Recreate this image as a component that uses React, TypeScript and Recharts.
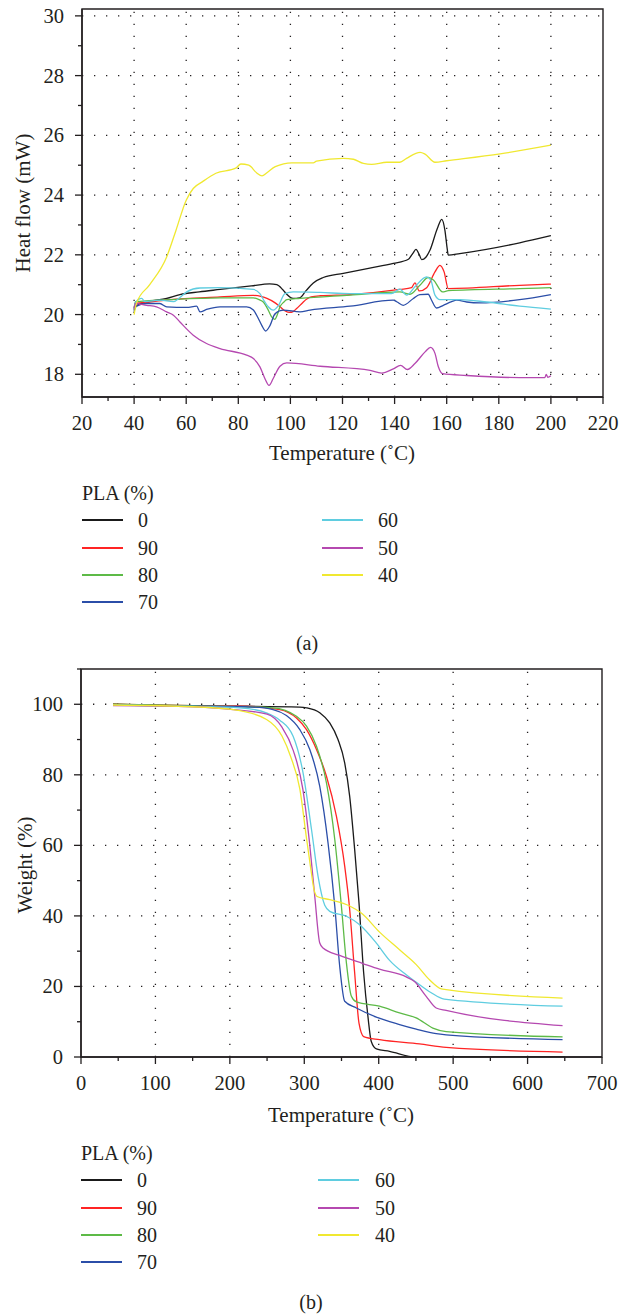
import React from "react";
import {
  LineChart,
  Line,
  XAxis,
  YAxis,
  ReferenceLine,
  ReferenceArea,
} from "recharts";

type Pt = [number, number];

// (a) DSC: heat flow (mW) against temperature (°C), one array per PLA content
const dsc0: Pt[] = [
  [40, 20.15], [41, 20.3], [45, 20.42], [52.5, 20.54], [57.6, 20.67], [65, 20.76],
  [73, 20.84], [85, 20.96], [92, 21.03], [94.8, 21.0], [97, 20.84], [98.6, 20.68],
  [101, 20.54], [103.5, 20.56], [106, 20.8], [108.8, 21.06], [112.6, 21.24],
  [120.3, 21.38], [130, 21.55], [139.5, 21.71], [145.3, 21.85], [147, 22.05],
  [148.2, 22.18], [149.5, 22.0], [150.4, 21.84], [152, 21.92], [153.6, 22.16],
  [156.4, 22.88], [158.1, 23.19], [159.3, 22.83], [160.2, 22.2], [160.6, 21.99],
  [165, 22.04], [188, 22.4], [200, 22.64],
];
const dsc90: Pt[] = [
  [40, 20.2], [40.5, 20.37], [46, 20.42], [53.8, 20.5], [73, 20.59], [85.8, 20.64],
  [89, 20.6], [91, 20.54], [94, 20.4], [96, 20.26], [98, 20.12], [99.8, 20.07],
  [101, 20.1], [102.4, 20.2], [104.5, 20.38], [106.3, 20.52], [108, 20.59],
  [111.4, 20.63], [122.9, 20.67], [142, 20.84], [146.5, 20.9], [147.8, 21.06],
  [149.5, 20.79], [152.3, 20.9], [155.5, 21.43], [157.4, 21.65], [159, 21.43],
  [160.6, 20.87], [188, 20.98], [200, 21.02],
];
const dsc80: Pt[] = [
  [40, 20.2], [40.5, 20.43], [53.8, 20.5], [73, 20.56], [85.8, 20.56], [88, 20.5],
  [89.6, 20.42], [91.5, 20.15], [92.8, 19.92], [94, 19.84], [95, 20.0], [96, 20.26],
  [97.5, 20.42], [98.6, 20.5], [103.7, 20.54], [122.9, 20.65], [142, 20.76],
  [145.9, 20.68], [149.7, 20.98], [152.9, 21.24], [154.9, 21.16], [158.4, 20.76],
  [160.6, 20.8], [188, 20.87], [200, 20.9],
];
const dsc70: Pt[] = [
  [40, 20.1], [40.5, 20.26], [44.8, 20.37], [49.9, 20.37], [52.5, 20.26], [60.2, 20.24],
  [64, 20.28], [65.3, 20.09], [67.8, 20.17], [73, 20.26], [83.2, 20.26], [85.8, 20.15],
  [87.5, 19.9], [89, 19.64], [90.5, 19.45], [92.2, 19.64], [94.1, 20.03], [97.3, 20.15],
  [103.7, 20.09], [107.5, 20.15], [122.9, 20.28], [139.5, 20.48], [140.8, 20.43],
  [143.3, 20.31], [147.2, 20.54], [149.7, 20.67], [152.9, 20.68], [154.2, 20.48],
  [156.1, 20.22], [158.7, 20.31], [161.9, 20.43], [163.8, 20.48], [167.7, 20.42],
  [172.8, 20.39], [188, 20.5], [200, 20.67],
];
const dsc60: Pt[] = [
  [40, 20.2], [40.5, 20.4], [42.9, 20.54], [44.2, 20.43], [49.9, 20.48], [55.1, 20.43],
  [57.6, 20.57], [60.2, 20.76], [65.3, 20.89], [73, 20.9], [85.8, 20.84], [88.3, 20.7],
  [90, 20.45], [91.5, 20.26], [93.4, 20.15], [95.4, 20.3], [97.9, 20.7], [101.1, 20.76],
  [111.4, 20.74], [122.9, 20.7], [138.8, 20.7], [142, 20.85], [144.6, 20.65],
  [147.8, 20.93], [152.3, 21.26], [153.9, 21.15], [155.5, 20.65], [157.4, 20.5],
  [165.1, 20.5], [175.4, 20.42], [188, 20.28], [200, 20.18],
];
const dsc50: Pt[] = [
  [40, 20.2], [40.5, 20.37], [44.8, 20.31], [48.6, 20.26], [52.5, 20.09], [55.1, 19.98],
  [57.6, 19.75], [62.7, 19.31], [67.8, 19.03], [73, 18.86], [83.2, 18.64], [85.8, 18.53],
  [88.3, 18.25], [90.2, 17.86], [91.8, 17.63], [93.4, 17.86], [96, 18.27], [98.6, 18.38],
  [111.4, 18.27], [130.6, 18.13], [135, 18.04], [139.5, 18.18], [142.3, 18.3],
  [144.9, 18.16], [147.8, 18.36], [151.7, 18.75], [153.8, 18.9], [155.5, 18.7],
  [156.8, 18.25], [158.4, 18.02], [167.7, 17.96], [188, 17.89], [197.7, 17.89],
  [198.2, 18.0], [198.8, 17.9], [200, 17.95],
];
const dsc40: Pt[] = [
  [40, 20.0], [41, 20.4], [46, 21.0], [52.5, 21.93], [56, 22.8], [60, 23.83],
  [62.7, 24.22], [66.3, 24.45], [71.4, 24.73], [79, 24.9], [81, 25.04], [84, 25.0],
  [87, 24.75], [89.1, 24.64], [91, 24.75], [94.2, 24.95], [100.6, 25.08], [108.8, 25.08],
  [110, 25.14], [120.3, 25.23], [124.2, 25.2], [128, 25.06], [131.2, 25.03], [137, 25.1],
  [142, 25.1], [144.6, 25.23], [149.8, 25.43], [151.7, 25.37], [155.5, 25.1],
  [160, 25.15], [180.5, 25.38], [200, 25.67],
];

// (b) TGA: weight (%) against temperature (°C)
const tga0: Pt[] = [
  [43, 100], [100, 99.7], [200, 99.5], [294, 99.2], [303, 99.0], [320.8, 97.6],
  [334.2, 94.7], [345.3, 90], [354.3, 83.4], [361, 73.9], [367.7, 58.8], [373.5, 43.7],
  [379.8, 23.8], [385.5, 11.5], [390, 4.4], [396.8, 2.3], [414.6, 1.6], [450, 0], [650, 0],
];
const tga90: Pt[] = [
  [43, 100], [150, 99.6], [213.5, 99.5], [267, 98.5], [289.5, 96.1], [303, 92.8],
  [316.4, 87.2], [329.8, 79.6], [343.2, 68.2], [354.3, 54.1], [361, 41.8], [367.7, 23.8],
  [373.5, 9.6], [379.8, 5.8], [401.2, 4.9], [454.8, 3.7], [490.6, 2.7], [647, 1.4],
];
const tga80: Pt[] = [
  [43, 100], [150, 99.6], [258, 99.0], [289.5, 96.6], [303, 93.8], [316.4, 88.1],
  [329.8, 77.7], [341, 61.6], [349.9, 42.7], [356.6, 26.7], [363.3, 17.2], [370, 15.6],
  [401, 14.4], [428, 12.5], [450.4, 11.1], [472.7, 8.2], [490.6, 7.2], [647, 5.7],
];
const tga70: Pt[] = [
  [43, 99.8], [150, 99.5], [230, 99.2], [258, 98.5], [276, 96.8], [294, 92.8],
  [307.4, 87.2], [320.8, 76.7], [331.9, 60.7], [341, 42.7], [347.6, 25.7], [354.3, 15.8],
  [370, 13.9], [396.8, 11.3], [428, 9.2], [450.4, 7.9], [477.2, 6.6], [490.6, 6.3], [647, 4.9],
];
const tga60: Pt[] = [
  [43, 99.8], [150, 99.4], [213, 99.0], [250, 97.5], [267, 95.5], [285, 90.9],
  [298.4, 80.5], [309.7, 64.5], [318.5, 51.2], [327.5, 43.0], [334.2, 41.3],
  [356.6, 39.9], [374.4, 37.5], [396.8, 32.3], [414.6, 27.4], [437, 23.3], [450.4, 21.2],
  [470, 18.3], [488, 16.4], [647, 14.4],
];
const tga50: Pt[] = [
  [43, 99.6], [150, 99.3], [204.6, 98.5], [250, 97.2], [270, 93.5], [285, 87],
  [298, 76], [307.4, 60], [314.1, 45.5], [320.8, 32.3], [325.2, 30.9], [347.6, 28.8],
  [378.8, 26.5], [401, 24.9], [437, 22.7], [448, 21.4], [463.8, 17.2], [477.2, 13.9],
  [490.6, 13.2], [647, 8.9],
];
const tga40: Pt[] = [
  [43, 99.8], [150, 99.3], [204.6, 98.5], [249.3, 95.7], [270, 91], [282, 85],
  [294, 76], [303, 62], [309, 53], [313, 47.5], [317.2, 45.5], [334.2, 44.6],
  [361, 42.8], [376.6, 40.8], [401.2, 35.4], [428, 30.4], [450.4, 26.2], [468.2, 21.9],
  [484, 19.3], [490.6, 19.1], [647, 16.7],
];

const plaLabels = ["0", "90", "80", "70", "60", "50", "40"];
const dscSeries = [dsc0, dsc90, dsc80, dsc70, dsc60, dsc50, dsc40];
const tgaSeries = [tga0, tga90, tga80, tga70, tga60, tga50, tga40];

const dscXTicks = [20, 30, 40, 50, 60, 70, 80, 90, 100, 110, 120, 130, 140, 150, 160, 170, 180, 190, 200, 210, 220];
const dscYTicks = [18, 19, 20, 21, 22, 23, 24, 25, 26, 27, 28, 29, 30];
const dscGridX = [40, 60, 80, 100, 120, 140, 160, 180, 200];
const dscGridY = [18, 20, 22, 24, 26, 28, 30];

const tgaXTicks = [0, 50, 100, 150, 200, 250, 300, 350, 400, 450, 500, 550, 600, 650, 700];
const tgaYTicks = [0, 10, 20, 30, 40, 50, 60, 70, 80, 90, 100, 110];
const tgaGridX = [100, 200, 300, 400, 500, 600];
const tgaGridY = [20, 40, 60, 80, 100];

const COLORS = ["#1a1a1a", "#ff2424", "#5dba47", "#2b4ea8", "#5fcde0", "#b548b0", "#f0e830"];
const FONT = '"Liberation Serif", "Times New Roman", "DejaVu Serif", serif';
const INK = "#231f20";

const isMajor = (v: number, step: number) => Math.abs(v / step - Math.round(v / step)) < 1e-6;

function XTick({ x, y, payload, major }: any) {
  const big = isMajor(payload.value, major);
  return (
    <g>
      <line x1={x} y1={y} x2={x} y2={y + (big ? 7 : 4)} stroke={INK} strokeWidth={1.3} />
      {big && (
        <text x={x} y={y + 33} textAnchor="middle" fontSize={20.5} fontFamily={FONT} fill={INK}>
          {payload.value}
        </text>
      )}
    </g>
  );
}

function YTick({ x, y, payload, major }: any) {
  const big = isMajor(payload.value, major);
  return (
    <g>
      <line x1={x} y1={y} x2={x - (big ? 7 : 4)} y2={y} stroke={INK} strokeWidth={1.3} />
      {big && (
        <text x={x - 18} y={y + 7} textAnchor="end" fontSize={20.5} fontFamily={FONT} fill={INK}>
          {payload.value}
        </text>
      )}
    </g>
  );
}

function Panel(props: any) {
  const { series, xDomain, yDomain, xTicks, yTicks, gridX, gridY, xMajor, yMajor, yWidth, right } = props;
  return (
    <LineChart width={633} height={440} margin={{ top: 9, right, bottom: 0, left: 0 }}>
      <XAxis
        type="number"
        dataKey="t"
        domain={xDomain}
        ticks={xTicks}
        interval={0}
        allowDataOverflow
        height={43}
        tickLine={false}
        tickSize={0}
        tickMargin={0}
        axisLine={{ stroke: INK, strokeWidth: 1.4 }}
        tick={(p: any) => <XTick {...p} major={xMajor} />}
      />
      <YAxis
        type="number"
        domain={yDomain}
        ticks={yTicks}
        interval={0}
        allowDataOverflow
        width={yWidth}
        tickLine={false}
        tickSize={0}
        tickMargin={0}
        axisLine={{ stroke: INK, strokeWidth: 1.4 }}
        tick={(p: any) => <YTick {...p} major={yMajor} />}
      />
      {gridX.map((v: number) => (
        <ReferenceLine key={`gx${v}`} x={v} stroke={INK} strokeWidth={1.3} strokeDasharray="1.3 10.7" />
      ))}
      {gridY.map((v: number) => (
        <ReferenceLine key={`gy${v}`} y={v} stroke={INK} strokeWidth={1.3} strokeDasharray="1.3 10.7" />
      ))}
      {series.map((pts: Pt[], i: number) => (
        <Line
          key={plaLabels[i]}
          data={pts.map(([t, v]) => ({ t, v }))}
          dataKey="v"
          type="monotone"
          stroke={COLORS[i]}
          strokeWidth={1.3}
          dot={false}
          isAnimationActive={false}
        />
      ))}
      <ReferenceArea
        x1={xDomain[0]}
        x2={xDomain[1]}
        y1={yDomain[0]}
        y2={yDomain[1]}
        fill="none"
        stroke={INK}
        strokeWidth={1.4}
      />
    </LineChart>
  );
}

function Txt({ x, y, children, left, rotate, size }: any) {
  return (
    <div
      style={{
        position: "absolute",
        left: x,
        top: y,
        transform: `translate(${left ? "0" : "-50%"}, -50%)${rotate ? " rotate(-90deg)" : ""}`,
        fontSize: size ?? 20,
        lineHeight: 1,
        whiteSpace: "nowrap",
      }}
    >
      {children}
    </div>
  );
}

function Legend({ top, lineX, textX, col2LineX, col2TextX }: any) {
  const rows = [27, 55, 82, 109];
  return (
    <>
      <Txt x={lineX} y={top} left>PLA (%)</Txt>
      {plaLabels.map((lab, i) => {
        const col2 = i >= 4;
        const y = top + rows[col2 ? i - 4 : i];
        const lx = col2 ? col2LineX : lineX;
        const tx = col2 ? col2TextX : textX;
        return (
          <React.Fragment key={lab}>
            <div style={{ position: "absolute", left: lx, top: y - 0.8, width: 41, height: 1.6, background: COLORS[i] }} />
            <Txt x={tx} y={y} left>{lab}</Txt>
          </React.Fragment>
        );
      })}
    </>
  );
}

export default function App() {
  return (
    <div
      style={{
        position: "absolute",
        left: 0,
        top: 0,
        width: 633,
        height: 1316,
        background: "#fff",
        fontFamily: FONT,
        color: INK,
        overflow: "hidden",
      }}
    >
      <div style={{ position: "absolute", left: 0, top: 0 }}>
        <Panel
          series={dscSeries}
          xDomain={[20, 220]}
          yDomain={[17.24, 30.23]}
          xTicks={dscXTicks}
          yTicks={dscYTicks}
          gridX={dscGridX}
          gridY={dscGridY}
          xMajor={20}
          yMajor={2}
          yWidth={82}
          right={30}
        />
      </div>
      <Txt x={23} y={203} rotate size={21}>Heat flow (mW)</Txt>
      <Txt x={342} y={453} size={21}>Temperature (˚C)</Txt>
      <Legend top={493} lineX={82} textX={138} col2LineX={322} col2TextX={378} />
      <Txt x={307} y={643}>(a)</Txt>

      <div style={{ position: "absolute", left: 0, top: 660 }}>
        <Panel
          series={tgaSeries}
          xDomain={[0, 700]}
          yDomain={[0, 110]}
          xTicks={tgaXTicks}
          yTicks={tgaYTicks}
          gridX={tgaGridX}
          gridY={tgaGridY}
          xMajor={100}
          yMajor={20}
          yWidth={81}
          right={31}
        />
      </div>
      <Txt x={25} y={865} rotate size={21}>Weight (%)</Txt>
      <Txt x={341} y={1115} size={21}>Temperature (˚C)</Txt>
      <Legend top={1153} lineX={81} textX={137} col2LineX={318} col2TextX={375} />
      <Txt x={311} y={1302}>(b)</Txt>
    </div>
  );
}
